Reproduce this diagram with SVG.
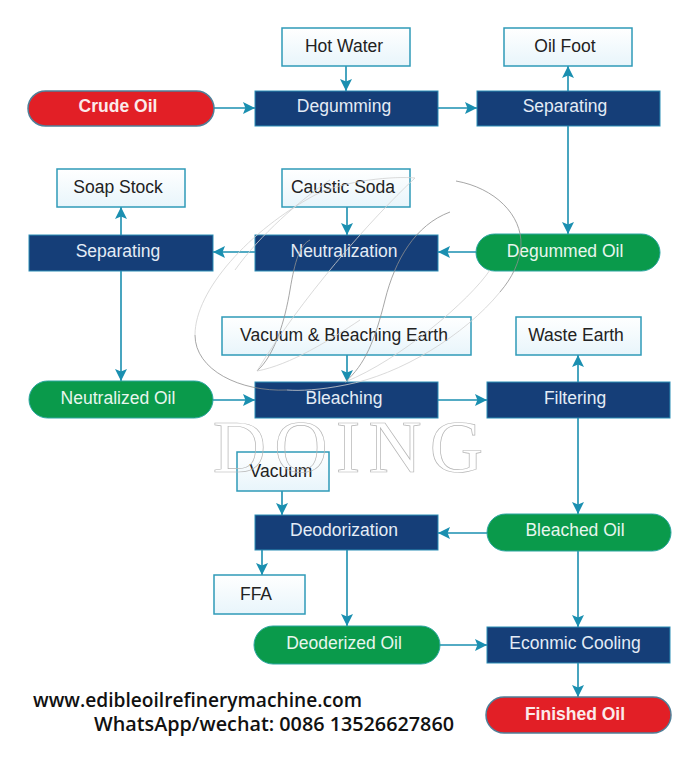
<svg xmlns="http://www.w3.org/2000/svg" width="700" height="758" viewBox="0 0 700 758">
<defs>
<linearGradient id="lb" x1="0" y1="0" x2="0" y2="1"><stop offset="0" stop-color="#ffffff"/><stop offset="1" stop-color="#e8f5fb"/></linearGradient>
<marker id="a" viewBox="0 0 10 10" refX="10" refY="5" markerWidth="12" markerHeight="12" markerUnits="userSpaceOnUse" orient="auto"><path d="M0 0L10 5L0 10L2 5Z" fill="#1a8fb0"/></marker>
</defs>
<style>
text{font-family:"Liberation Sans",Arial,sans-serif;font-size:17.5px;text-anchor:middle}
.i rect{fill:url(#lb);stroke:#2f9ab8;stroke-width:1.5}
.i text{fill:#222}
.p rect{fill:#153e78;stroke:#2a8db5;stroke-width:1}
.p text{fill:#e4ecf6}
.g rect{fill:#0a9a4b;stroke:#2aa6a0;stroke-width:1}
.g text{fill:#e8f6ee}
.r rect{fill:#e21f26;stroke:#4f7f98;stroke-width:1.5}
.r text{fill:#fbeaea;font-weight:bold}
#connectors path{fill:none;stroke:#1a8fb0;stroke-width:1.6;marker-end:url(#a)}
.w{fill:none;stroke:#8f8f8f;stroke-width:.8}
.wl{fill:none;stroke:#d0d0d0;stroke-width:.8}
.wt{font-family:"Liberation Serif",serif;font-size:74px;fill:none;stroke:#b5b5b5;stroke-width:.7;letter-spacing:8px}
.f{font-family:"Open Sans","Noto Sans",sans-serif;font-size:19px;font-weight:600;fill:#111;text-anchor:start}
</style>
<rect width="700" height="758" fill="#fff"/>
<g id="connectors">
<path d="M346 66V91"/><path d="M568 126V66"/><path d="M214 108H255"/><path d="M438 108H477"/>
<path d="M568 126V234"/><path d="M121 235V207"/><path d="M347 207V235"/><path d="M255 252H213"/><path d="M476 252H438"/>
<path d="M121 271V381"/><path d="M347 355V382"/><path d="M213 400H255"/><path d="M438 400H487"/><path d="M578 382V355"/>
<path d="M578 418V514"/><path d="M282 491V515"/><path d="M487 533H438"/><path d="M262 550V575"/><path d="M347 550V626"/>
<path d="M578 551V627"/><path d="M440 645H487"/><path d="M578 663V697"/>
</g>
<g id="hot-water" class="i"><rect x="282" y="28" width="128" height="38"/><text x="344" y="52">Hot Water</text></g>
<g id="oil-foot" class="i"><rect x="504" y="28" width="128" height="38"/><text x="565" y="52">Oil Foot</text></g>
<g id="crude-oil" class="r"><rect x="28" y="91" width="186" height="35" rx="17.5"/><text x="118" y="112">Crude Oil</text></g>
<g id="degumming" class="p"><rect x="255" y="91" width="183" height="35"/><text x="344" y="112">Degumming</text></g>
<g id="separating-1" class="p"><rect x="477" y="91" width="183" height="35"/><text x="565" y="112">Separating</text></g>
<g id="soap-stock" class="i"><rect x="57" y="169" width="128" height="38"/><text x="118" y="193">Soap Stock</text></g>
<g id="caustic-soda" class="i"><rect x="282" y="169" width="128" height="38"/><text x="343" y="193">Caustic Soda</text></g>
<g id="separating-2" class="p"><rect x="29" y="235" width="184" height="36"/><text x="118" y="257">Separating</text></g>
<g id="neutralization" class="p"><rect x="255" y="235" width="183" height="36"/><text x="344" y="257">Neutralization</text></g>
<g id="degummed-oil" class="g"><rect x="476" y="234" width="184" height="37" rx="18.5"/><text x="565" y="257">Degummed Oil</text></g>
<g id="vacuum-bleaching-earth" class="i"><rect x="222" y="317" width="249" height="38"/><text x="344" y="341">Vacuum &amp; Bleaching Earth</text></g>
<g id="waste-earth" class="i"><rect x="516" y="317" width="125" height="38"/><text x="576" y="341">Waste Earth</text></g>
<g id="neutralized-oil" class="g"><rect x="29" y="381" width="184" height="37" rx="18.5"/><text x="118" y="404">Neutralized Oil</text></g>
<g id="bleaching" class="p"><rect x="255" y="382" width="183" height="36"/><text x="344" y="404">Bleaching</text></g>
<g id="filtering" class="p"><rect x="487" y="382" width="183" height="36"/><text x="575" y="404">Filtering</text></g>
<g id="vacuum" class="i"><rect x="237" y="452" width="92" height="39"/><text x="281" y="477">Vacuum</text></g>
<g id="deodorization" class="p"><rect x="255" y="515" width="183" height="35"/><text x="344" y="536">Deodorization</text></g>
<g id="bleached-oil" class="g"><rect x="487" y="514" width="184" height="37" rx="18.5"/><text x="575" y="536">Bleached Oil</text></g>
<g id="ffa" class="i"><rect x="214" y="575" width="91" height="39"/><text x="256" y="600">FFA</text></g>
<g id="deodorized-oil" class="g"><rect x="254" y="626" width="186" height="38" rx="19"/><text x="344" y="649">Deoderized Oil</text></g>
<g id="econmic-cooling" class="p"><rect x="487" y="627" width="183" height="36"/><text x="575" y="649">Econmic Cooling</text></g>
<g id="finished-oil" class="r"><rect x="486" y="697" width="185" height="36" rx="18"/><text x="575" y="720">Finished Oil</text></g>
<g id="watermark">
<path class="w" d="M456 181C495 188 522 215 521 245C520 262 512 278 500 292"/>
<path class="wl" d="M500 292C465 335 400 375 345 385C320 390 300 391 287 390"/>
<path class="w" d="M287 390C240 392 195 370 195 335"/>
<path class="wl" d="M195 335C195 290 250 230 315 195C345 180 395 176 415 178"/>
<path class="w" d="M310 240C300 245 295 260 290 290C285 320 275 355 257 371"/>
<path class="wl" d="M257 371C290 365 330 340 360 320"/>
<path class="w" d="M345 382C365 365 375 340 385 300C395 260 415 225 450 212"/>
<path class="wl" d="M257 371C300 300 370 220 415 178M345 382C400 360 470 300 490 270M235 270C260 235 300 200 330 180"/>
<text class="wt" x="352" y="472">DOING</text>
</g>
<text class="f" x="33" y="707" textLength="329" lengthAdjust="spacingAndGlyphs">www.edibleoilrefinerymachine.com</text>
<text class="f" x="94" y="731" textLength="360" lengthAdjust="spacingAndGlyphs">WhatsApp/wechat: 0086 13526627860</text>
</svg>
